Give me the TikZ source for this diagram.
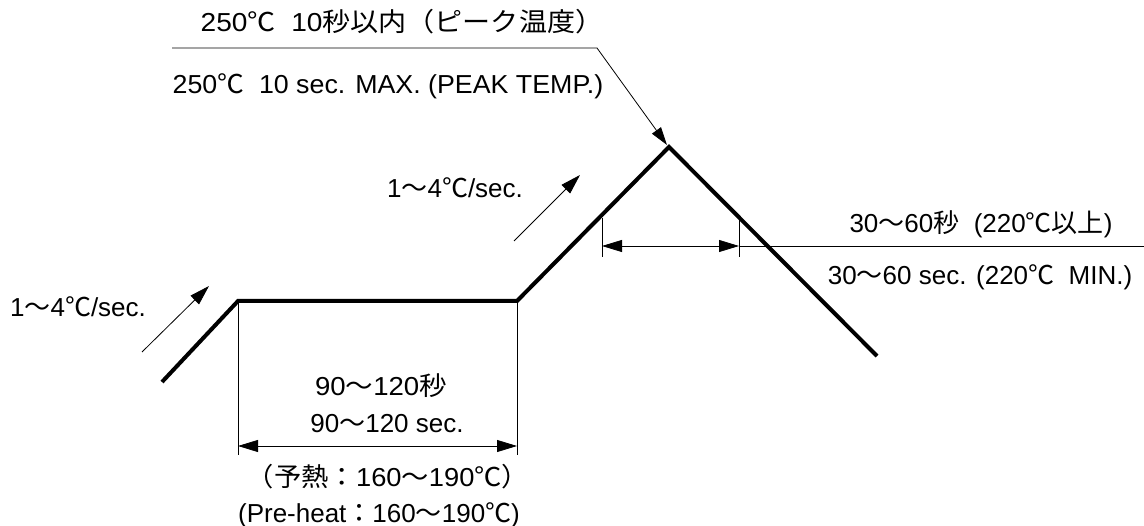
\documentclass[tikz,border=0pt]{standalone}
\usepackage{fontspec}
\setmainfont{Liberation Sans}
\newfontfamily\jp{Noto Sans CJK JP}
\newcommand{\J}[1]{{\jp #1}}
\newcommand{\SX}[2]{\scalebox{#1}[1]{#2}}
\usetikzlibrary{arrows.meta}
\tikzset{
  prof/.style={line width=4pt, line join=miter},
  thinln/.style={line width=0.8pt},
  dimarrow/.style={thinln, {Triangle[length=20pt,width=12pt]}-{Triangle[length=20pt,width=12pt]}},
  onearrow/.style={thinln, -{Triangle[length=20pt,width=12pt]}},
  lbl/.style={font=\fontsize{26}{30}\selectfont, inner sep=0pt, anchor=base},
}
\begin{document}
\begin{tikzpicture}[x=1pt,y=-1pt]
\useasboundingbox (0,0) rectangle (1144,526);
% profile
\coordinate (p0) at (162,382);
\coordinate (p1) at (238,301);
\coordinate (p2) at (517,301);
\coordinate (p3) at (669,147);
\coordinate (p4) at (877,356);
\draw[prof] (p0) -- (p1) -- (p2) -- (p3) -- (p4);
% preheat dimension
\coordinate (t1b) at (238,455);
\coordinate (t2b) at (517,455);
\draw[thinln] (p1) -- (t1b);
\draw[thinln] (p2) -- (t2b);
\coordinate (d1) at (238,446);
\coordinate (d2) at (517,446);
\draw[dimarrow] (d1) -- (d2);
% reflow dimension
\coordinate (u1t) at (602,218);
\coordinate (u1b) at (602,257);
\coordinate (u2t) at (739,217);
\coordinate (u2b) at (739,257);
\draw[thinln] (u1t) -- (u1b);
\draw[thinln] (u2t) -- (u2b);
\coordinate (e1) at (602,246);
\coordinate (e2) at (739,246);
\coordinate (e3) at (1144,246);
\draw[dimarrow] (e1) -- (e2);
\draw[thinln] (e2) -- (e3);
% peak leader
\coordinate (L0) at (172,48);
\coordinate (L1) at (597,48);
\coordinate (L2) at (667,145);
\draw[thinln, -{Triangle[length=18pt,width=11pt]}] (L0) -- (L1) -- (L2);
% rate arrows
\coordinate (r1s) at (142,352);
\coordinate (r1e) at (209,286);
\coordinate (r2s) at (514,241);
\coordinate (r2e) at (580,175);
\draw[onearrow] (r1s) -- (r1e);
\draw[onearrow] (r2s) -- (r2e);
% labels
\node[lbl] (t1) at (402,32) {\SX{1.08}{250\J{℃}\ \ 10\J{秒以内（ピーク温度）}}};
\node[lbl] (t2) at (388,94) {\SX{1.03}{250\J{℃}\ \ 10 sec. MAX. (PEAK TEMP.)}};
\node[lbl] (r1) at (981,233) {30\J{～}60\J{秒}\ \ (220\J{℃以上})};
\node[lbl] (r2) at (980,285) {30\J{～}60 sec. (220\J{℃}\ \ MIN.)};
\node[lbl] (ur) at (455,198) {1\J{～}4\J{℃}/sec.};
\node[lbl] (lr) at (78,317) {1\J{～}4\J{℃}/sec.};
\node[lbl] (b1) at (381,396) {\SX{1.06}{90\J{～}120\J{秒}}};
\node[lbl] (b2) at (387,433) {90\J{～}120 sec.};
\node[lbl] (b3) at (388,487) {\SX{1.05}{\J{（予熱：}160\J{～}190\J{℃）}}};
\node[lbl] (b4) at (379,522) {(Pre-heat\J{：}160\J{～}190\J{℃})};
\end{tikzpicture}
\end{document}
